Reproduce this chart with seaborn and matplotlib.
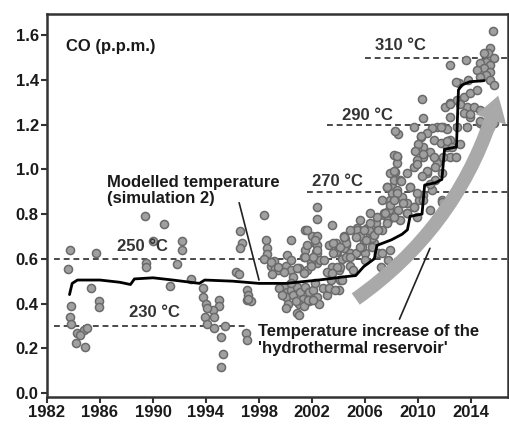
import seaborn as sns
import matplotlib.pyplot as plt
from matplotlib.patches import FancyArrowPatch

co_year = [
    1983.7, 1983.6, 1983.8, 1983.7, 1983.85, 1984.3, 1984.8, 1985.0, 1984.2, 1984.9, 1984.5,
    1985.7, 1985.3, 1985.9, 1985.9,
    1989.4, 1990.8, 1990.0, 1989.5, 1989.5, 1991.3, 1992.2, 1992.2, 1991.8, 1992.9,
    1993.8, 1993.8, 1994.0, 1993.9, 1994.1, 1994.6, 1994.95, 1995.0, 1994.5, 1995.1,
    1995.3, 1995.1, 1995.4, 1994.6, 1994.1,
    1996.6, 1996.7, 1996.6, 1996.3, 1996.5, 1997.1, 1997.1, 1997.2, 1997.0, 1997.1, 1997.4, 1997.2,
    1998.4, 1998.5, 1998.6, 1998.6, 1998.4, 1998.9, 1999.2, 1999.1, 1999.4, 1999.0,
    2000.1, 2000.4, 2000.0, 2000.4, 2000.6, 2001.0, 2001.5, 2001.5, 2001.4, 2002.0,
    2002.2, 2002.3, 2002.4, 2001.9, 2001.6,
    1999.9, 2000.1, 2000.0, 2000.4, 2000.6, 2000.2, 2000.0, 2000.9, 2001.1, 2001.3,
    2001.0, 2000.9, 2001.5, 2001.8, 2001.8, 2001.4, 2002.1, 2002.4, 2002.5, 2002.2,
    2000.4, 2001.0, 2000.8, 2001.7, 2002.1, 2003.1, 2004.0, 1999.5, 1999.7, 2002.8, 2003.3,
    2002.4, 2002.4, 2003.5, 2001.6, 2002.4, 2002.4, 2002.4, 2002.6, 2003.3, 2003.8,
    2003.9, 2004.5, 2004.6, 2004.3, 2004.9, 2005.4, 2005.5, 2005.9, 2006.15, 2006.4,
    2006.0, 2006.7, 2006.9, 2007.0, 2003.5, 2004.0, 2004.9, 2003.1, 2001.9, 2001.4,
    2003.4, 2004.1, 1999.9, 1999.4, 1998.9, 2000.4, 2000.9,
    2002.25, 2001.6, 2002.4, 2002.1, 2002.9, 2001.5, 2003.6, 2003.8, 2004.4, 2004.4,
    2004.6, 2004.1, 2005.3, 2005.4, 2005.6, 2005.8, 2006.0, 2006.3, 2006.5, 2006.5,
    2006.8, 2007.3, 2007.4, 2007.7, 2007.8, 2007.9, 2008.0, 2008.2, 2008.3, 2008.4,
    2008.5, 2007.2, 2007.7, 2007.3, 2007.9,
    2007.66, 2008.0, 2008.4, 2008.8, 2009.2, 2008.5, 2007.9, 2007.4, 2006.9, 2006.4,
    2005.9, 2005.3, 2004.6, 2004.1, 2003.6, 2004.9, 2005.6, 2006.1, 2006.65, 2007.0,
    2007.66, 2008.16, 2008.66, 2009.2, 2009.7, 2010.05, 2010.4, 2006.4, 2005.6, 2004.9,
    2004.4, 2003.9, 2004.3, 2003.75, 2003.5, 2005.1,
    2015.65, 2015.45, 2015.3, 2014.95, 2015.7, 2015.1, 2015.45, 2014.7, 2014.95, 2014.45,
    2015.45, 2015.1, 2014.7, 2015.45, 2015.7, 2012.4, 2013.6, 2013.1, 2013.8, 2010.3,
    2010.4, 2009.7, 2008.3,
    2012.06, 2012.43, 2012.94, 2013.44, 2013.9, 2014.45, 2013.7, 2014.2, 2014.7, 2013.44,
    2013.9, 2014.7, 2014.95, 2015.7, 2012.4, 2011.9, 2012.94, 2013.7,
    2011.4, 2011.05, 2010.7, 2010.2, 2011.2, 2010.4, 2009.9, 2010.9, 2011.7, 2012.2,
    2012.4, 2011.9, 2011.4, 2010.4, 2009.9, 2009.7, 2010.7, 2011.3, 2011.8, 2012.4,
    2008.16, 2008.4, 2007.9, 2008.66, 2009.2, 2009.4, 2009.9, 2008.4, 2007.65, 2008.16,
    2008.9, 2009.7, 2010.4, 2011.05, 2011.8, 2010.9, 2007.3, 2007.5, 2009.2, 2009.9, 2008.16,
    2012.9, 2010.2, 2010.0, 2009.8, 2010.4, 2011.2, 2011.3, 2010.7, 2009.9, 2010.3,
    2008.4, 2008.2, 2008.7, 2009.4, 2010.9, 2011.8, 2012.2, 2012.6, 2012.9, 2013.2,
    2012.2, 2011.7, 2012.4, 2013.2, 2013.9, 2014.7, 2015.45,
]
co_ppm = [
    0.64, 0.555, 0.39, 0.34, 0.31, 0.27, 0.28, 0.29, 0.225, 0.205, 0.26,
    0.625, 0.47, 0.41, 0.385,
    0.79, 0.755, 0.68, 0.58, 0.565, 0.48, 0.68, 0.64, 0.577, 0.51,
    0.47, 0.43, 0.40, 0.34, 0.31, 0.29, 0.416, 0.39, 0.37, 0.25,
    0.174, 0.115, 0.30, 0.34, 0.38,
    0.726, 0.67, 0.65, 0.54, 0.53, 0.415, 0.46, 0.44, 0.27, 0.237, 0.41, 0.42,
    0.796, 0.684, 0.65, 0.62, 0.60, 0.57, 0.56, 0.59, 0.55, 0.53,
    0.617, 0.684, 0.57, 0.55, 0.52, 0.56, 0.73, 0.64, 0.61, 0.70,
    0.67, 0.63, 0.58, 0.58, 0.55,
    0.475, 0.45, 0.43, 0.46, 0.44, 0.40, 0.38, 0.475, 0.45, 0.42,
    0.40, 0.356, 0.475, 0.45, 0.41, 0.39, 0.46, 0.43, 0.40, 0.49,
    0.49, 0.35, 0.41, 0.416, 0.416, 0.44, 0.46, 0.47, 0.44, 0.47, 0.47,
    0.83, 0.78, 0.75, 0.73, 0.70, 0.66, 0.625, 0.595, 0.66, 0.67,
    0.63, 0.69, 0.66, 0.60, 0.625, 0.74, 0.71, 0.68, 0.74, 0.71,
    0.625, 0.67, 0.73, 0.625, 0.565, 0.55, 0.57, 0.54, 0.57, 0.535,
    0.505, 0.505, 0.54, 0.565, 0.587, 0.595, 0.56,
    0.684, 0.662, 0.64, 0.61, 0.595, 0.61, 0.67, 0.632, 0.70, 0.647,
    0.61, 0.565, 0.625, 0.729, 0.70, 0.655, 0.595, 0.729, 0.692, 0.655,
    0.759, 0.729, 0.796, 0.774, 0.818, 0.863, 0.923, 0.953, 0.99, 1.057,
    1.16, 0.565, 0.595, 0.625, 0.64,
    0.923, 0.893, 0.908, 0.878, 0.848, 0.818, 0.841, 0.803, 0.789, 0.759,
    0.729, 0.699, 0.67, 0.655, 0.625, 0.61, 0.655, 0.684, 0.707, 0.729,
    0.759, 0.789, 0.774, 0.803, 0.833, 0.863, 0.885, 0.803, 0.774, 0.729,
    0.699, 0.565, 0.505, 0.46, 0.535, 0.55,
    1.62, 1.541, 1.519, 1.519, 1.497, 1.482, 1.467, 1.474, 1.452, 1.444,
    1.437, 1.422, 1.415, 1.40, 1.378, 1.467, 1.49, 1.385, 1.40, 1.314,
    1.228, 1.19, 1.17,
    1.281, 1.295, 1.31, 1.325, 1.34, 1.355, 1.281, 1.281, 1.266, 1.251,
    1.236, 1.206, 1.19, 1.206, 1.236, 1.19, 1.19, 1.19,
    1.19, 1.184, 1.161, 1.146, 1.131, 1.102, 1.087, 1.079, 1.117, 1.102,
    1.057, 1.057, 1.027, 1.057, 1.042, 1.012, 0.982, 0.953, 0.982, 1.131,
    1.064, 1.027, 0.982, 0.953, 0.982, 0.923, 0.893, 0.893, 0.923, 0.863,
    0.848, 0.833, 0.863, 0.908, 0.863, 0.818, 0.863, 0.803, 0.803, 0.789, 0.789,
    1.39, 1.151, 1.114, 1.084, 1.069, 1.054, 1.009, 0.994, 1.024, 0.972,
    1.061, 0.994, 0.95, 0.92, 0.935, 0.853, 1.128, 1.099, 1.054, 1.114,
    1.18, 1.188, 1.293, 1.293, 1.248, 1.218, 1.188,
]

# modelled temperature (simulation 2), expressed on the CO axis
model_year = [1983.7, 1983.9, 1984.3, 1986.0, 1987.5, 1988.3, 1988.6, 1990.0, 1991.5,
              1993.5, 1993.9, 1996.0, 1998.0, 2000.0, 2002.5, 2004.5, 2005.3, 2005.9,
              2006.7, 2006.9, 2008.0, 2008.8, 2009.2, 2009.4, 2010.3, 2010.5, 2011.3,
              2011.8, 2012.0, 2012.9, 2013.05, 2013.3, 2013.9, 2015.0]
model_co = [0.44, 0.49, 0.505, 0.505, 0.495, 0.485, 0.51, 0.515, 0.505,
            0.49, 0.505, 0.50, 0.49, 0.49, 0.505, 0.52, 0.525, 0.565,
            0.60, 0.66, 0.685, 0.71, 0.73, 0.79, 0.80, 0.93, 0.94,
            0.955, 1.09, 1.10, 1.355, 1.377, 1.392, 1.397]

# reservoir temperature levels
level_co = [0.3, 0.6, 0.9, 1.2, 1.5]
level_labels = ['230 °C', '250 °C', '270 °C', '290 °C', '310 °C']
level_start = [1982.55, 1982.55, 2001.65, 2003.1, 2006.0]
level_end = [1997.0, 2016.8, 2016.8, 2016.8, 2016.8]
label_pos = [(1990.1, 0.36), (1989.2, 0.654), (2003.9, 0.944), (2006.2, 1.243), (2008.7, 1.556)]

x_ticks = list(range(1982, 2015, 4))
y_ticks = [0.0, 0.2, 0.4, 0.6, 0.8, 1.0, 1.2, 1.4, 1.6]

sns.set_style('ticks')
plt.rcParams['font.family'] = ['Liberation Sans', 'DejaVu Sans']
plt.rcParams['font.weight'] = 'bold'

fig = plt.figure(figsize=(5.09, 4.25), dpi=100)
ax = fig.add_axes([0.0923, 0.066, 0.906, 0.901])

ax.hlines(level_co, level_start, level_end, colors='#4a4a4a', linewidth=1.4,
          linestyles=(0, (3, 2)), zorder=1)
for lab, (lx, ly) in zip(level_labels, label_pos):
    ax.text(lx, ly, lab, ha='center', va='center', fontsize=12, color='#333333')

sns.scatterplot(x=co_year, y=co_ppm, ax=ax, color='#a0a0a0', edgecolor='#6a6a6a',
                s=34, linewidth=1.1, zorder=2)
sns.lineplot(x=model_year, y=model_co, ax=ax, color='black', linewidth=2.0,
             sort=False, estimator=None, zorder=3)

arrow = FancyArrowPatch((2005.3, 0.42), (2016.05, 1.33),
                        connectionstyle='arc3,rad=0.18',
                        arrowstyle='simple,tail_width=10,head_width=23,head_length=18',
                        mutation_scale=1, shrinkA=0, shrinkB=0,
                        color='#a9a9a9', linewidth=0, zorder=4)
ax.add_patch(arrow)

ax.text(1983.4, 1.549, 'CO (p.p.m.)', ha='left', va='center', fontsize=12, color='#1a1a1a')
ax.text(1986.55, 0.975, 'Modelled temperature\n(simulation 2)', ha='left', va='top',
        fontsize=12, linespacing=1.05, color='#1a1a1a')
ax.annotate('', xy=(1998.0, 0.505), xytext=(1996.5, 0.851),
            arrowprops=dict(arrowstyle='-', color='#222222', lw=1.2, shrinkA=0, shrinkB=0))
ax.text(1997.95, 0.31, "Temperature increase of the\n'hydrothermal reservoir'", ha='left',
        va='top', fontsize=12, linespacing=1.2, color='#1a1a1a')
ax.annotate('', xy=(2010.9, 0.647), xytext=(2008.6, 0.33),
            arrowprops=dict(arrowstyle='-', color='#222222', lw=1.2, shrinkA=0, shrinkB=0))

ax.set_xlim(1982, 2016.8)
ax.set_ylim(-0.018, 1.695)
ax.set_xticks(x_ticks)
ax.set_yticks(y_ticks)
ax.set_yticklabels([f'{v:.1f}' for v in y_ticks])
ax.tick_params(labelsize=12, length=4, width=1.5, color='#333333', labelcolor='#1a1a1a', pad=2)
for sp in ax.spines.values():
    sp.set_visible(True)
    sp.set_linewidth(1.8)
    sp.set_color('#333333')
ax.set_xlabel('')
ax.set_ylabel('')

fig.savefig('out.png', dpi=100)
